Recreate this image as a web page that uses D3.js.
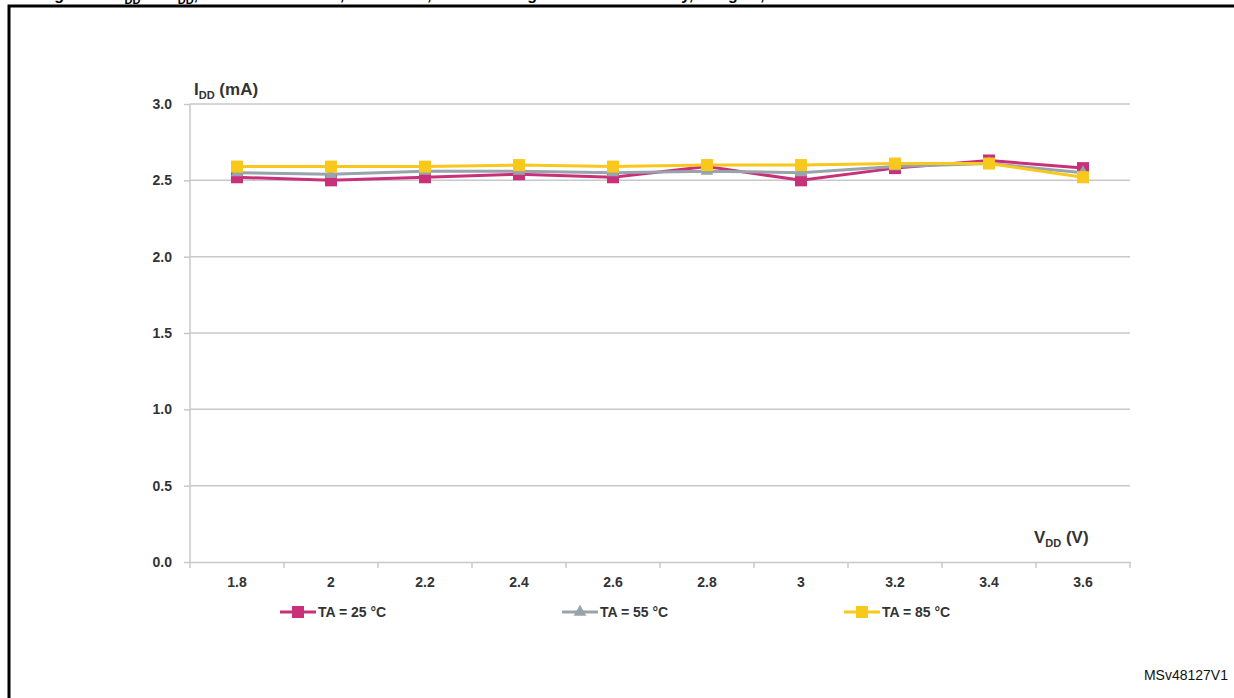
<!DOCTYPE html>
<html>
<head>
<meta charset="utf-8">
<script src="https://cdn.jsdelivr.net/npm/d3@7"></script>
<style>
  body { margin: 0; background: #fff; }
  svg { display: block; font-family: "Liberation Sans", Arial, sans-serif; }
</style>
</head>
<body>
<div class="chart"></div>
<script>
// supply voltage categories (V)
var vdd = ["1.8", "2", "2.2", "2.4", "2.6", "2.8", "3", "3.2", "3.4", "3.6"];
// current consumption (mA) per temperature
var ta25 = [2.52, 2.50, 2.52, 2.54, 2.52, 2.59, 2.50, 2.58, 2.63, 2.58];
var ta55 = [2.55, 2.54, 2.56, 2.56, 2.55, 2.56, 2.55, 2.59, 2.61, 2.55];
var ta85 = [2.59, 2.59, 2.59, 2.60, 2.59, 2.60, 2.60, 2.61, 2.61, 2.52];
var yTicks = [0, 0.5, 1.0, 1.5, 2.0, 2.5, 3.0];
var seriesNames = ["TA = 25 °C", "TA = 55 °C", "TA = 85 °C"];

function drawChart() {
    var series = [
        { name: seriesNames[0], values: ta25, color: "#c9307a", marker: "square" },
        { name: seriesNames[1], values: ta55, color: "#98a3ab", marker: "triangle" },
        { name: seriesNames[2], values: ta85, color: "#f9c81c", marker: "square" }
    ];

    var W = 1234, H = 698;
    var svg = d3.select(".chart").append("svg").attr("width", W).attr("height", H);

    // caption, cut off at the top edge like the source
    var cap = svg.append("text").attr("x", 40).attr("y", 0)
        .attr("font-weight", "bold").attr("font-size", 16);
    cap.append("tspan").text("Figure 26. I");
    cap.append("tspan").attr("font-size", 11).attr("dy", 4).text("DD");
    cap.append("tspan").attr("dy", -4).text(" vs V");
    cap.append("tspan").attr("font-size", 11).attr("dy", 4).text("DD");
    cap.append("tspan").attr("dy", -4).text(", at TA= 25/55/85 °C, Run mode, code running from Flash memory, Range 2, 24 MHz");

    // frame
    svg.append("path")
        .attr("d", "M9,700 L9,6 L1240,6")
        .attr("fill", "none").attr("stroke", "#000").attr("stroke-width", 3);

    var left = 190, right = 1130, plotTop = 104, bottom = 562;

    var x = d3.scaleBand().domain(vdd).range([left, right]);
    var y = d3.scaleLinear().domain([0, 3]).range([bottom, plotTop]);

    // grid
    svg.append("g").selectAll("line").data(yTicks.slice(1)).enter().append("line")
        .attr("x1", left).attr("x2", right)
        .attr("y1", function (d) { return y(d); }).attr("y2", function (d) { return y(d); })
        .attr("stroke", "#c8c8c8").attr("stroke-width", 1.5);

    // y axis
    var yAxis = svg.append("g").attr("transform", "translate(" + left + ",0)")
        .call(d3.axisLeft(y).tickValues(yTicks).tickFormat(d3.format(".1f")).tickSize(6).tickPadding(12));
    yAxis.select(".domain").attr("stroke", "#c8c8c8").attr("stroke-width", 1.5)
        .attr("d", "M0," + bottom + "V" + plotTop);
    yAxis.selectAll(".tick line").attr("stroke", "#c8c8c8").attr("stroke-width", 1.5);
    yAxis.selectAll("text").attr("font-size", 14).attr("font-weight", "bold").attr("fill", "#333")
        .attr("font-family", "Liberation Sans, Arial, sans-serif");

    // x axis
    var xAxis = svg.append("g").attr("transform", "translate(0," + bottom + ")")
        .call(d3.axisBottom(x).tickSize(0).tickPadding(15));
    xAxis.select(".domain").attr("stroke", "#c8c8c8").attr("stroke-width", 1.5);
    xAxis.selectAll("text").attr("font-size", 14).attr("font-weight", "bold").attr("fill", "#333")
        .attr("font-family", "Liberation Sans, Arial, sans-serif");
    svg.append("g").selectAll("line").data(vdd.concat([null])).enter().append("line")
        .attr("x1", function (d, i) { return left + i * x.step(); })
        .attr("x2", function (d, i) { return left + i * x.step(); })
        .attr("y1", bottom).attr("y2", bottom + 6)
        .attr("stroke", "#c8c8c8").attr("stroke-width", 1.5);

    // axis titles
    var yl = svg.append("text").attr("x", 194).attr("y", 95)
        .attr("font-weight", "bold").attr("font-size", 17).attr("fill", "#333");
    yl.append("tspan").text("I");
    yl.append("tspan").attr("font-size", 11).attr("dy", 4).text("DD");
    yl.append("tspan").attr("dy", -4).text(" (mA)");

    var xl = svg.append("text").attr("x", 1034).attr("y", 543)
        .attr("font-weight", "bold").attr("font-size", 17).attr("fill", "#333");
    xl.append("tspan").text("V");
    xl.append("tspan").attr("font-size", 11).attr("dy", 4).text("DD");
    xl.append("tspan").attr("dy", -4).text(" (V)");

    var cx = function (d, i) { return x(vdd[i]) + x.bandwidth() / 2; };
    var line = d3.line().x(cx).y(function (d) { return y(d); });

    function drawMarker(g, s, px, py) {
        if (s.marker === "square") {
            g.append("rect").attr("x", px - 6).attr("y", py - 6).attr("width", 12).attr("height", 12)
                .attr("fill", s.color);
        } else {
            g.append("path").attr("d", d3.symbol().type(d3.symbolTriangle).size(70)())
                .attr("transform", "translate(" + px + "," + py + ")").attr("fill", s.color);
        }
    }

    series.forEach(function (s) {
        var g = svg.append("g");
        g.append("path").datum(s.values).attr("d", line)
            .attr("fill", "none").attr("stroke", s.color).attr("stroke-width", 3);
        s.values.forEach(function (v, i) { drawMarker(g, s, cx(v, i), y(v)); });
    });

    // legend
    var legX = [280, 562, 844];
    series.forEach(function (s, i) {
        var g = svg.append("g");
        g.append("line").attr("x1", legX[i]).attr("x2", legX[i] + 36).attr("y1", 612).attr("y2", 612)
            .attr("stroke", s.color).attr("stroke-width", 3);
        drawMarker(g, s, legX[i] + 18, 612);
        g.append("text").attr("x", legX[i] + 38).attr("y", 617)
            .attr("font-size", 14).attr("font-weight", "bold").attr("fill", "#333").text(s.name);
    });

    svg.append("text").attr("x", 1228).attr("y", 680).attr("text-anchor", "end")
        .attr("font-size", 14).attr("fill", "#111").text("MSv48127V1");
}
drawChart();
</script>
</body>
</html>
